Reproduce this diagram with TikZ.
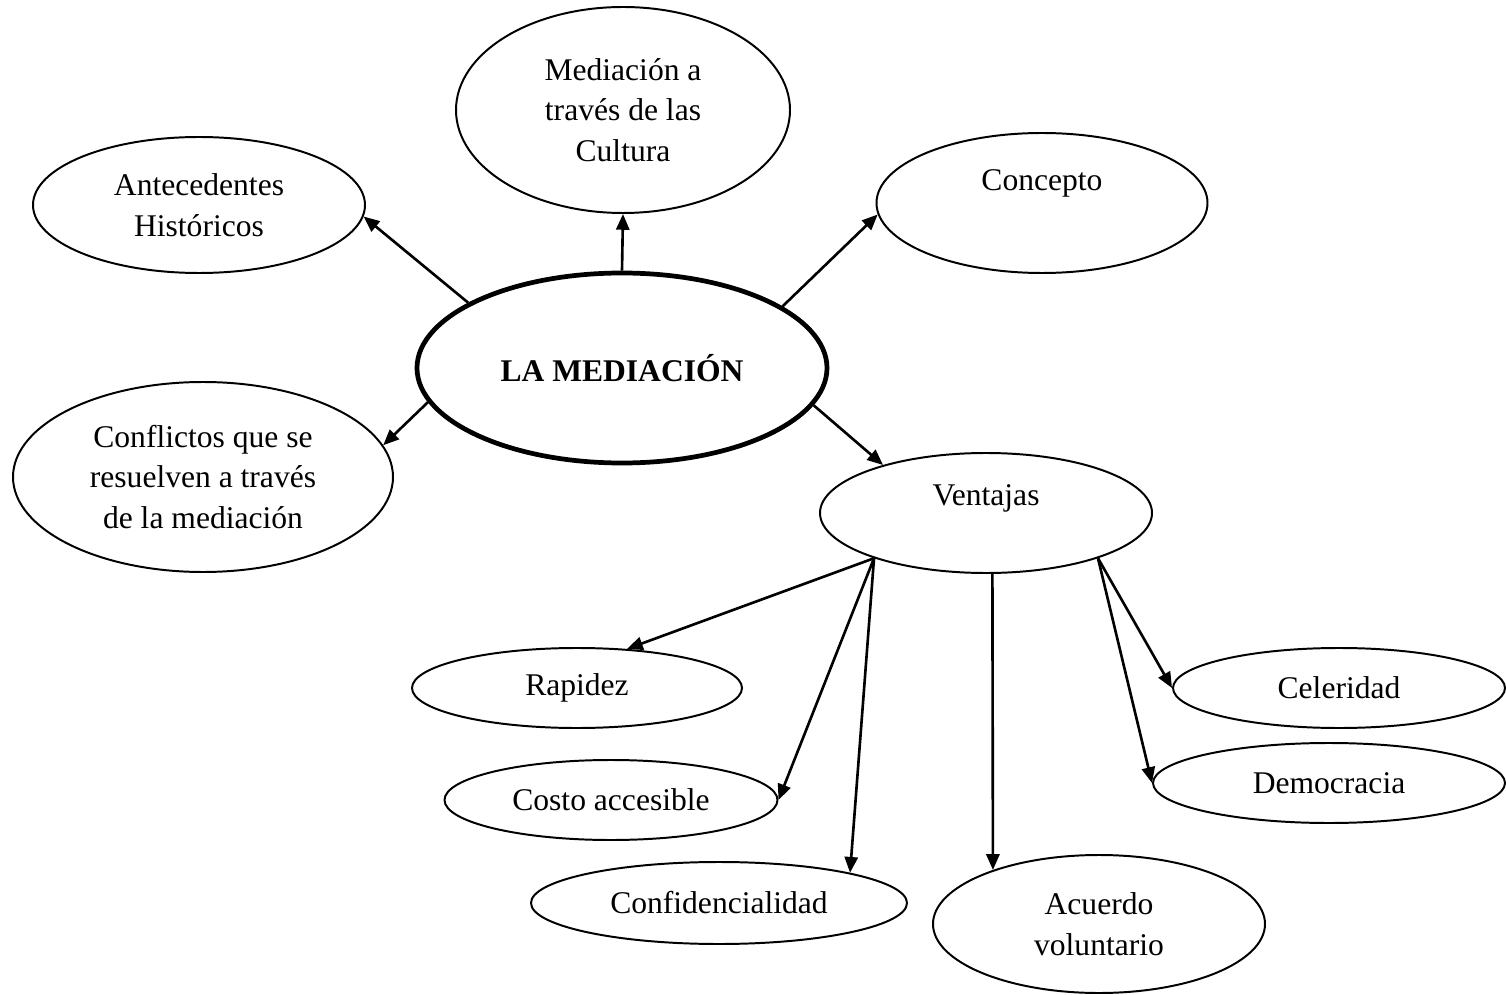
\documentclass[tikz,border=0pt]{standalone}
\usepackage{fontspec}
\setmainfont{Liberation Serif}
\usetikzlibrary{arrows.meta,shapes.geometric}

\begin{document}
\begin{tikzpicture}[x=0.38pt, y=-0.38pt, >={Triangle[length=6pt,width=5pt]}, font=\fontsize{12}{15.5}\selectfont, line join=round,
	oval/.style 2 args={ellipse, draw, line width=0.75pt, inner sep=0pt, align=center, minimum width=#1*0.38pt, minimum height=#2*0.38pt},
	flecha/.style={->, line width=1pt}]
	\useasboundingbox (0,0) rectangle (1506,995);
	% centro
	\node[oval={410}{190}, line width=1.8pt] (mediacion) at (622,368) {\textbf{LA MEDIACIÓN}};
	% primer nivel
	\node[oval={332}{136}] (antecedentes) at (199,205) {Antecedentes\\Históricos};
	\node[oval={334}{206}] (culturas) at (623,110) {Mediación a\\través de las\\Cultura};
	\node[oval={331}{140}, text depth=17.5pt] (concepto) at (1042,203) {Concepto};
	\node[oval={380}{190}] (conflictos) at (203,477) {Conflictos que se\\resuelven a través\\de la mediación};
	\node[oval={332}{120}, text depth=14pt] (ventajas) at (986,513) {Ventajas};
	% ventajas
	\node[oval={330}{80}] (rapidez) at (577,688) {Rapidez};
	\node[oval={333}{80}] (costo) at (611,800) {Costo accesible};
	\node[oval={376}{82}] (confidencialidad) at (719,903) {Confidencialidad};
	\node[oval={332}{138}] (acuerdo) at (1099,924) {Acuerdo\\voluntario};
	\node[oval={332}{80}] (celeridad) at (1339,688) {Celeridad};
	\node[oval={352}{80}] (democracia) at (1329,783) {Democracia};
	% flechas
	\draw[flecha] (mediacion.157) -- (antecedentes.-4);
	\draw[flecha] (mediacion.north) -- (culturas.south);
	\draw[flecha] (mediacion.21) -- (concepto.184);
	\draw[flecha] (mediacion.-170) -- (conflictos.10);
	\draw[flecha] (mediacion.-11) -- (ventajas.155);
	\foreach \desde/\hasta in {-158/rapidez.38, -158/costo.east, -158/confidencialidad.13, -84/acuerdo.153, -22/celeridad.west, -22/democracia.west}
		\draw[flecha] (ventajas.\desde) -- (\hasta);
\end{tikzpicture}
\end{document}
